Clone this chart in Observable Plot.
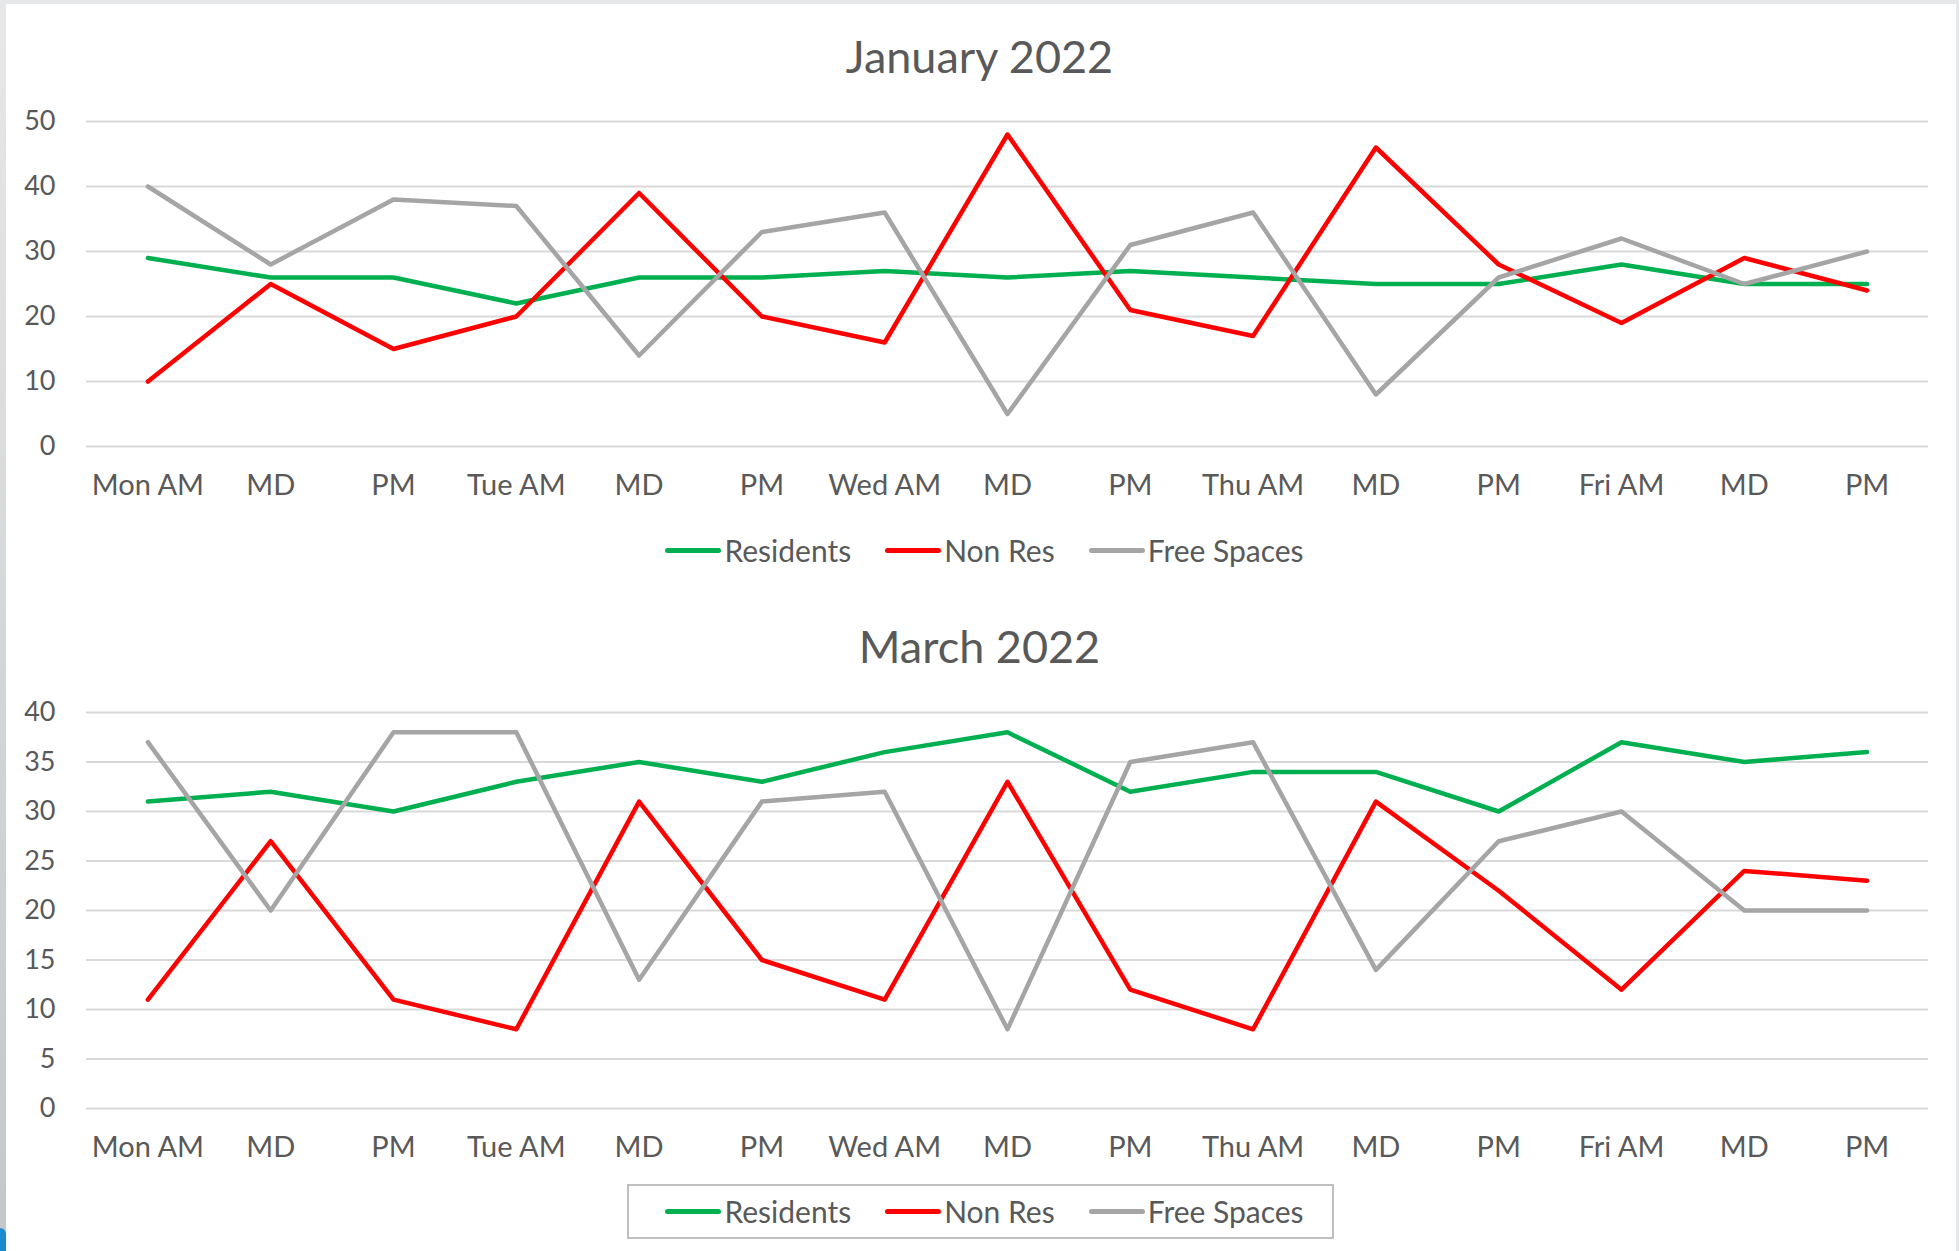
<!DOCTYPE html>
<html><head><meta charset="utf-8">
<script src="https://cdn.jsdelivr.net/npm/d3@7"></script>
<script src="https://cdn.jsdelivr.net/npm/@observablehq/plot@0.6"></script>
<style>
body{margin:0;background:#e6e7e8;width:1959px;height:1251px;overflow:hidden;font-family:Lato,"Open Sans",sans-serif;position:relative;}
#strip{position:absolute;left:0;top:0;width:6px;height:1251px;background:linear-gradient(#e6e7e8,#c3c7ca);}
#blue{position:absolute;left:0;top:1228px;width:6px;height:23px;background:#1b8bd0;border-top-right-radius:6px;}
#panel{position:absolute;left:6px;top:4px;width:1950px;height:1247px;background:#fff;}
.abs{position:absolute;left:0;width:1959px;}
.title{text-align:center;font-size:45px;color:#595959;}
.legend{display:flex;justify-content:center;align-items:center;font-size:30px;color:#595959;}
.item{display:flex;align-items:center;margin:0 17px;}
.sw{width:56px;height:5px;border-radius:3px;margin-right:3px;}
.box{position:absolute;border:2px solid #bfbfbf;box-sizing:border-box;}
</style></head><body>
<div id="strip"></div>
<div id="blue"></div>
<div id="panel"></div>
<script>
const labels = ["Mon AM","MD","PM","Tue AM","MD","PM","Wed AM","MD","PM","Thu AM","MD","PM","Fri AM","MD","PM"];
const seriesNames = ["Residents","Non Res","Free Spaces"];
const seriesColors = ["#00b050","#ff0000","#a5a5a5"];

const janTitle = "January 2022";
const janResidents = [29,26,26,22,26,26,27,26,27,26,25,25,28,25,25];
const janNonRes    = [10,25,15,20,39,20,16,48,21,17,46,28,19,29,24];
const janFree      = [40,28,38,37,14,33,36,5,31,36,8,26,32,25,30];
const janTicks     = [0,10,20,30,40,50];

const marTitle = "March 2022";
const marResidents = [31,32,30,33,35,33,36,38,32,34,34,30,37,35,36];
const marNonRes    = [11,27,11,8,31,15,11,33,12,8,31,22,12,24,23];
const marFree      = [37,20,38,38,13,31,32,8,35,37,14,27,30,20,20];
const marTicks     = [0,5,10,15,20,25,30,35,40];

function rowsOf(series) {
  const out = [];
  series.forEach((vals, k) => vals.forEach((v, i) => out.push({i, v, s: seriesNames[k]})));
  return out;
}

function chart(rows, ticks, h, mt, mb) {
  return Plot.plot({
    width: 1959, height: h,
    marginLeft: 86, marginRight: 31, marginTop: mt, marginBottom: mb,
    style: {fontFamily: "Lato, 'Open Sans', sans-serif", color: "#595959", background: "transparent", overflow: "visible"},
    x: {type: "point", domain: d3.range(labels.length), padding: 0.5, round: false},
    y: {domain: [ticks[0], ticks[ticks.length - 1]]},
    color: {domain: seriesNames, range: seriesColors},
    marks: [
      Plot.gridY(ticks, {stroke: "#d9d9d9", strokeOpacity: 1, strokeWidth: 2}),
      Plot.axisY(ticks, {tickSize: 0, tickPadding: 31, fontSize: 27, label: null, fill: "#595959"}),
      Plot.axisX({tickSize: 0, tickPadding: 28, fontSize: 29, label: null, fill: "#595959", tickFormat: i => labels[i]}),
      Plot.line(rows, {x: "i", y: "v", stroke: "s", z: "s", strokeWidth: 4.5, strokeLinejoin: "round", strokeLinecap: "round"})
    ]
  });
}

function place(el, top) { el.classList.add("abs"); el.style.top = top + "px"; document.body.appendChild(el); return el; }

function title(text, top, h) {
  const d = document.createElement("div");
  d.className = "title"; d.textContent = text;
  d.style.height = h + "px"; d.style.lineHeight = h + "px";
  return place(d, top);
}

function legend(top, h) {
  const d = document.createElement("div");
  d.className = "legend"; d.style.height = h + "px";
  d.style.left = "5px";
  seriesNames.forEach((n, k) => {
    const it = document.createElement("div"); it.className = "item";
    const sw = document.createElement("div"); sw.className = "sw"; sw.style.background = seriesColors[k];
    const t = document.createElement("span"); t.textContent = n;
    it.appendChild(sw); it.appendChild(t); d.appendChild(it);
  });
  return place(d, top);
}

title(janTitle, 20, 72);
place(chart(rowsOf([janResidents, janNonRes, janFree]), janTicks, 420, 26, 69), 95);
legend(520, 60);

title(marTitle, 610, 72);
place(chart(rowsOf([marResidents, marNonRes, marFree]), marTicks, 480, 22, 62), 690);
legend(1182, 58);
const b = document.createElement("div"); b.className = "box";
b.style.left = "627px"; b.style.top = "1184px"; b.style.width = "707px"; b.style.height = "55px";
document.body.appendChild(b);
</script>
</body></html>
